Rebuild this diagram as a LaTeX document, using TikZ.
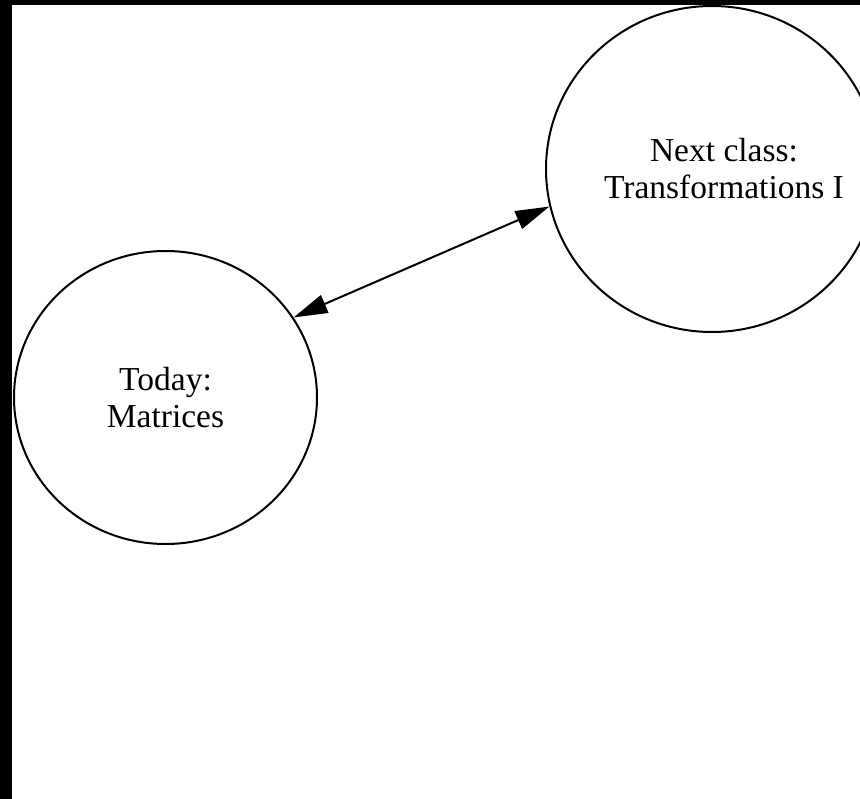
\documentclass[tikz,border=0pt]{standalone}
\usepackage{fontspec}
\setmainfont{Liberation Serif}
\usetikzlibrary{shapes.geometric,arrows.meta}
\begin{document}
\begin{tikzpicture}[x=1pt,y=-1pt,
  topic/.style={ellipse,draw=black,line width=2pt,inner sep=0pt},
  caption/.style={align=center,inner sep=0pt,font=\fontsize{33.5}{37}\selectfont},
  link/.style={line width=2pt,{Triangle[length=34pt,width=19pt]}-{Triangle[length=34pt,width=19pt]}}]
  % page and its dark edges
  \fill[white] (0,0) rectangle (860,799);
  \useasboundingbox (0,0) rectangle (860,799);
  \fill[black] (0,0) rectangle (12,799);
  \fill[black] (0,0) rectangle (860,5);
  % topics
  \node[topic,minimum width=303pt,minimum height=293pt] (today) at (165.5,397.5) {};
  \node[caption] (todaytext) at (165.5,397.5) {Today:\\Matrices};
  \node[topic,minimum width=332pt,minimum height=326pt] (next) at (712,169) {};
  \node[caption] (nexttext) at (724,169) {Next class:\\Transformations I};
  % connection between them
  \draw[link] (today.32) -- (next.193.5);
\end{tikzpicture}
\end{document}
